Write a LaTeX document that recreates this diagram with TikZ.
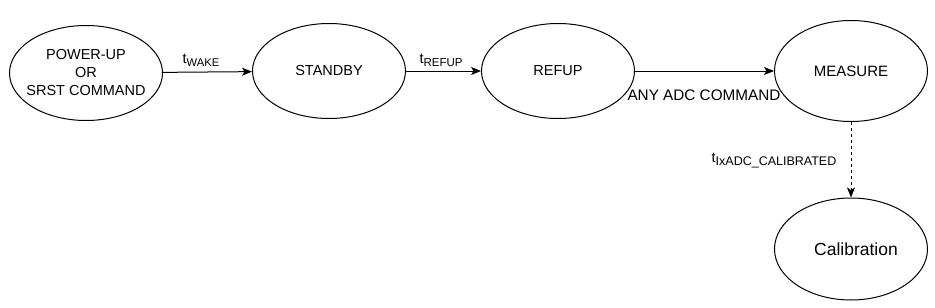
\documentclass[tikz,border=0pt]{standalone}
\usepackage{fontspec}
\setmainfont{Liberation Sans}
\usetikzlibrary{shapes.geometric,arrows.meta}
\begin{document}
\begin{tikzpicture}[x=1pt,y=-1pt,
  state/.style={draw,ellipse,line width=1pt,inner sep=0pt,minimum width=153pt,minimum height=95pt},
  stxt/.style={align=center,inner sep=0pt,font=\fontsize{14.5}{18}\selectfont},
  conn/.style={line width=1pt,-{Stealth[length=10pt,width=8pt,inset=2.5pt]}},
  lbl/.style={inner sep=1pt,font=\fontsize{14.5}{18}\selectfont}]
\useasboundingbox (0,0) rectangle (935,308);
\node[state] (pu) at (86,73) {};
\node[stxt] (put) at (pu) {POWER-UP\\OR\\SRST COMMAND};
\node[state] (sb) at (329,71) {};
\node[stxt] (sbt) at (sb) {STANDBY};
\node[state] (rf) at (558,71) {};
\node[stxt] (rft) at (rf) {REFUP};
\node[state,minimum height=101pt] (ms) at (851,71) {};
\node[stxt,font=\fontsize{15}{18}\selectfont] (mst) at (ms) {MEASURE};
\node[state,minimum height=102pt] (cal) at (851,249) {};
\node[stxt,font=\fontsize{17.5}{20}\selectfont] (calt) at (856,249) {Calibration};
\draw[conn] (pu) -- (sb);
\draw[conn] (sb) -- (rf);
\draw[conn] (rf) -- (ms);
\draw[conn,dashed,dash pattern=on 3pt off 3pt] (ms) -- (cal);
\node[lbl] (lw) at (201,60) {t\raisebox{-3pt}{\fontsize{11.2}{12}\selectfont WAKE}};
\node[lbl] (lr) at (441,60) {t\raisebox{-3pt}{\fontsize{11.5}{12}\selectfont REFUP}};
\node[lbl,font=\fontsize{15.3}{18}\selectfont] (la) at (704,95) {ANY ADC COMMAND};
\node[lbl] (lc) at (774,161) {t\raisebox{-3pt}{\fontsize{12.5}{14}\selectfont IxADC\_CALIBRATED}};
\end{tikzpicture}
\end{document}
